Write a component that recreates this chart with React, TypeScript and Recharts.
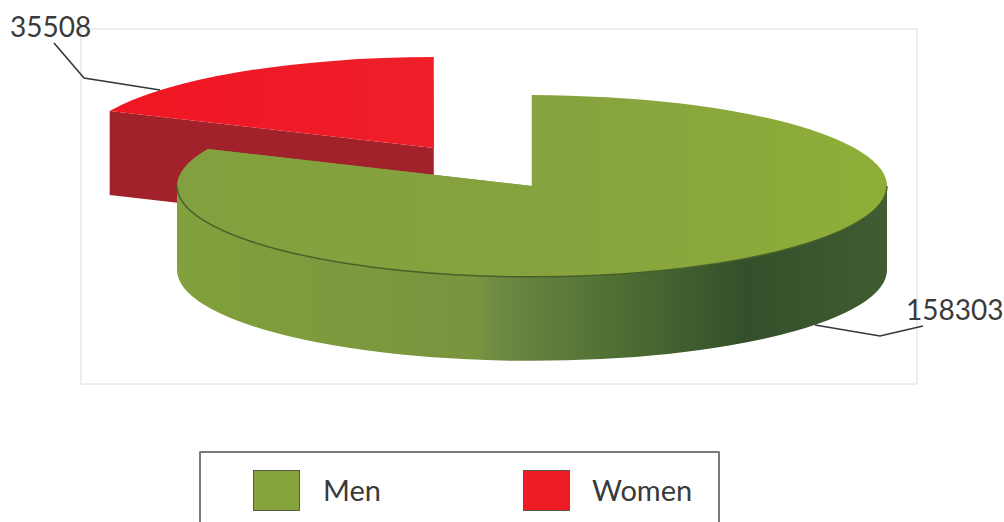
import React from 'react';
import { PieChart, Pie, Legend } from 'recharts';

const categories = ['Women', 'Men'];
const values = [35508, 158303];
const colors = ['#ee1c25', '#86a33c'];
const legendOrder = ['Men', 'Women'];

const data = categories.map((name, i) => ({ name, value: values[i], fill: colors[i] }));

// look of the tilted pie
const TILT = 0.256;
const DEPTH = 84;
const EXPLODE: Record<string, [number, number]> = { Men: [0, 0], Women: [-98, -38] };
const TOP_FILL: Record<string, string> = { Men: 'url(#menTop)', Women: 'url(#womenTop)' };
const CUT_FILL: Record<string, string> = { Men: '#7f9c3c', Women: '#a2222c' };

// where the data labels sit
const LABELS: Record<string, { x: number; y: number; line: string }> = {
  Women: { x: 10, y: 37, line: '54,43 84,78 160,90' },
  Men: { x: 906, y: 320, line: '815,325 880,336 923,326' },
};

function arcPath(cx: number, cy: number, rx: number, ry: number, from: number, to: number) {
  // from > to, walks clockwise on screen
  const rad = (a: number) => (a * Math.PI) / 180;
  const large = from - to > 180 ? 1 : 0;
  const x1 = cx + rx * Math.cos(rad(from));
  const y1 = cy - ry * Math.sin(rad(from));
  const x2 = cx + rx * Math.cos(rad(to));
  const y2 = cy - ry * Math.sin(rad(to));
  return { x1, y1, x2, y2, d: `A ${rx} ${ry} 0 ${large} 1 ${x2} ${y2}` };
}

function Wedge3D(props: any) {
  const { cx, cy, outerRadius, startAngle, endAngle, name } = props;
  const [dx, dy] = EXPLODE[name] || [0, 0];
  const x = cx + dx;
  const y = cy + dy;
  const rx = outerRadius;
  const ry = outerRadius * TILT;
  const top = arcPath(x, y, rx, ry, startAngle, endAngle);

  // only the front half of the rim shows a wall
  const wallFrom = Math.min(startAngle, 0);
  const wallTo = Math.max(endAngle, -180);
  const wall = wallFrom > wallTo ? arcPath(x, y, rx, ry, wallFrom, wallTo) : null;

  const rad = (endAngle * Math.PI) / 180;
  const ex = x + rx * Math.cos(rad);
  const ey = y - ry * Math.sin(rad);
  const rad2 = (startAngle * Math.PI) / 180;
  const sx = x + rx * Math.cos(rad2);
  const sy = y - ry * Math.sin(rad2);

  return (
    <g>
      <path d={`M ${sx} ${sy} L ${x} ${y} L ${ex} ${ey} L ${ex} ${ey + DEPTH} L ${x} ${y + DEPTH} L ${sx} ${sy + DEPTH} Z`} fill={CUT_FILL[name]} />
      {wall && (
        <path
          d={`M ${wall.x2} ${wall.y2} L ${wall.x2} ${wall.y2 + DEPTH} A ${rx} ${ry} 0 0 0 ${wall.x1} ${wall.y1 + DEPTH} L ${wall.x1} ${wall.y1} A ${rx} ${ry} 0 0 1 ${wall.x2} ${wall.y2} Z`}
          fill="url(#menWall)"
        />
      )}
      <path d={`M ${x} ${y} L ${top.x1} ${top.y1} ${top.d} Z`} fill={TOP_FILL[name]} />
      {wall && (
        <path
          d={`M ${wall.x2} ${wall.y2} A ${rx} ${ry} 0 0 0 ${wall.x1} ${wall.y1}`}
          fill="none"
          stroke="#47602a"
          strokeWidth={1.5}
        />
      )}
    </g>
  );
}

function renderLabel(props: any) {
  const place = LABELS[props.name];
  if (!place) return null;
  return (
    <g>
      <polyline points={place.line} fill="none" stroke="#33383a" strokeWidth={1.6} />
      <text x={place.x} y={place.y} fontFamily="Lato, sans-serif" fontSize={28} fill="#3a3a3a" textAnchor="start">
        {props.value}
      </text>
    </g>
  );
}

function LegendBox({ payload }: any) {
  const items = legendOrder.map((n) => (payload || []).find((p: any) => p.value === n)).filter(Boolean);
  const left = [52, 322];
  const textLeft = [122, 391];
  return (
    <div
      style={{
        position: 'relative',
        width: 517,
        height: 70,
        border: '2px solid #77797b',
        borderBottom: 'none',
        borderRadius: '2px 2px 0 0',
        background: '#fff',
        fontFamily: 'Lato, sans-serif',
        fontSize: 29,
        color: '#3a3a3a',
      }}
    >
      {items.map((item: any, i: number) => (
        <React.Fragment key={item.value}>
          <div
            style={{
              position: 'absolute',
              left: left[i],
              top: 17,
              width: 45,
              height: 39,
              background: item.color,
              border: '1px solid #555a4a',
            }}
          />
          <div style={{ position: 'absolute', left: textLeft[i], top: 20, lineHeight: '34px' }}>{item.value}</div>
        </React.Fragment>
      ))}
    </div>
  );
}

export default function App() {
  return (
    <div style={{ position: 'absolute', left: 0, top: 0, width: 1004, height: 522, background: '#fff', overflow: 'hidden' }}>
      <PieChart width={1004} height={522} margin={{ top: 0, right: 0, bottom: 0, left: 0 }}>
        <defs>
          <linearGradient id="menTop" gradientUnits="userSpaceOnUse" x1="177" y1="0" x2="887" y2="0">
            <stop offset="0" stopColor="#83a040" />
            <stop offset="0.55" stopColor="#86a33e" />
            <stop offset="1" stopColor="#8fae38" />
          </linearGradient>
          <linearGradient id="womenTop" gradientUnits="userSpaceOnUse" x1="108" y1="0" x2="434" y2="0">
            <stop offset="0" stopColor="#f01522" />
            <stop offset="1" stopColor="#ee1f29" />
          </linearGradient>
          <linearGradient id="menWall" gradientUnits="userSpaceOnUse" x1="177" y1="0" x2="887" y2="0">
            <stop offset="0" stopColor="#82a03c" />
            <stop offset="0.42" stopColor="#7a943f" />
            <stop offset="0.458" stopColor="#6d8842" />
            <stop offset="0.62" stopColor="#4e6e34" />
            <stop offset="0.8" stopColor="#33502a" />
            <stop offset="1" stopColor="#3f5c33" />
          </linearGradient>
        </defs>
        <rect x={81} y={29} width={836} height={355} fill="#fff" stroke="#e6e8ea" strokeWidth={1.5} />
        <Pie
          data={data}
          dataKey="value"
          nameKey="name"
          cx={532}
          cy={186}
          innerRadius={0}
          outerRadius={355}
          startAngle={156}
          endAngle={-204}
          stroke="none"
          shape={Wedge3D}
          label={renderLabel}
          labelLine={false}
          isAnimationActive={false}
        />
        <Legend content={<LegendBox />} wrapperStyle={{ position: 'absolute', left: 199, top: 451, width: 521, height: 71, bottom: 'auto' }} />
      </PieChart>
    </div>
  );
}
